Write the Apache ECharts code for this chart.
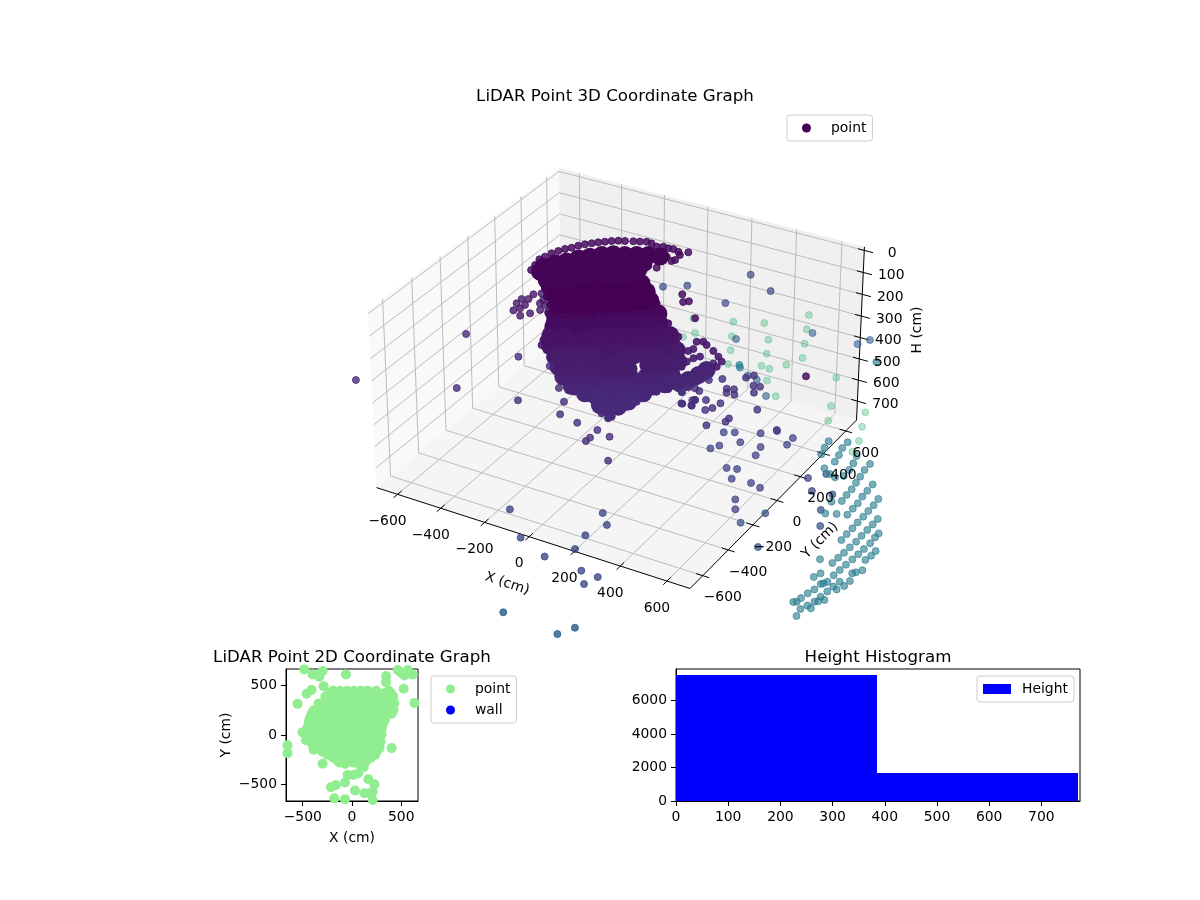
<!DOCTYPE html><html><head><meta charset="utf-8"><style>html,body{margin:0;background:#fff}#c{width:1200px;height:900px}</style><script src="https://cdn.jsdelivr.net/npm/echarts@6/dist/echarts.min.js"></script></head><body><div id="c"></div><script>
// ---------- data (cm); C = colour value on the viridis scale ----------
const xTicks=[-600,-400,-200,0,200,400,600], yTicks=[-600,-400,-200,0,200,400,600], hTicks=[0,100,200,300,400,500,600,700];
const rimX=[-377,-385,-395,-388,-380,-367,-353,-336,-322,-305,-286,-268,-248,-228,-206,-182,-152,-128,-105,-81,-50,-27,-3,17,45,64,68,26,60,37,1];
const rimY=[-47,-4,45,75,112,142,170,192,220,243,264,284,302,320,336,347,361,372,385,382,368,381,378,383,373,352,306,314,292,214,212];
const discX=[-350,-325,-293,-267,-235,-202,-165,-123,-83,-43,3,-340,-299,-267,-242,-209,-177,-137,-98,-65,-26,-282,-243,-211,-186,-153,-107,-68,-36,-16];
const discY=[0,47,82,128,163,198,226,244,267,290,301,-41,-34,1,47,82,116,139,162,197,220,-87,-64,-30,16,51,61,84,119,162];
const neckX=[-338,-298,-265,-233,-193,-160,-114,-81,-40,-278,-239,-200,-167,-134,-95,-56,-16,11,-232,-193,-154,-115,-82,-43,-4,29,56];
const neckY=[28,51,85,120,143,178,189,224,231,-33,-10,13,47,82,105,127,150,182,-84,-61,-39,-16,18,41,64,98,129];
const bodyUX=[-324,-285,-245,-212,-172,-132,-92,-59,-23,15,-288,-249,-169,-130,-97,-57,-18,20,59,-258,-219,-180,-140,-101,-5,34,67,106,141,-209,-62,-33];
const bodyUY=[41,64,87,122,145,168,191,226,256,269,-32,-9,37,60,94,117,140,168,200,-106,-84,-61,-38,-15,40,63,97,134,139,14,7,25];
const bodyUC=[.02,.02,.02,.02,.02,.02,.02,.02,.02,.02,.035,.035,.035,.035,.035,.035,.035,.035,.035,.05,.05,.05,.05,.05,.05,.05,.05,.05,.05,.035,.05,.05];
const bodyMX=[-348,-304,-264,-224,-170,-93,-50,-12,21,65,-285,-246,-206,-166,-120,-73,-67,21,59,95,105,-233,-194,-154,-114,-68,-29,14,66,106,133,155,-148,-101,-33,-20];
const bodyMY=[39,55,78,101,102,192,211,239,274,290,-27,-3,20,43,69,66,161,166,194,224,260,-88,-65,-42,-19,-7,16,34,100,123,154,182,156,141,89,140];
const bodyMC=[.06,.06,.06,.06,.065,.06,.06,.06,.06,.06,.07,.07,.07,.07,.07,.075,.065,.07,.07,.07,.07,.08,.08,.08,.08,.08,.08,.08,.08,.08,.08,.08,.06,.065,.075,.07];
const bodyLX=[-308,-267,-227,-186,-139,-99,-52,-19,21,61,-241,-198,-155,-111,-71,-24,9,43,74,104,-166,-113,-66,-26,7,34,-69,-30,0,15,138,154,163];
const bodyLY=[72,95,118,142,153,177,189,238,261,300,25,43,62,79,102,114,148,183,222,263,2,3,14,37,72,117,-47,-48,-22,32,298,353,405];
const bodyLC=[.09,.09,.09,.09,.09,.09,.09,.09,.09,.09,.1,.1,.1,.1,.1,.1,.1,.1,.1,.1,.11,.11,.11,.11,.11,.11,.12,.12,.12,.12,.1,.1,.1];
const edgeNX=[-347,-306,-260,-224,91,41,-16,-60], edgeNY=[6,-49,-100,-135,119,168,229,267];
const edgeUX=[-361,-321,-290,-267,175,154,89,39], edgeUY=[51,-4,-79,-142,144,147,217,267];
const edgeMX=[-380,-342,-297,-251,-213,188,164,141,158,148,234,273,303,305,210,194,184,186,142];
const edgeMY=[27,3,-33,-83,-121,355,372,358,300,276,326,296,268,223,260,235,199,154,220];
const edgeLX=[-319,-281,-236,-207,-171,-129,-92,-61,-31,9,16,7,29,44,59,74,104,135,158,173,189,138,154,163,161];
const edgeLY=[65,41,-9,-7,-1,-22,-45,-72,-98,-114,-101,-47,-5,48,101,155,196,221,249,303,358,298,353,405,465];
const armX=[-495,-472,-475,-451,-494,-461,-458,-475,-429,-405,-414,-417,-385,-350,-389];
const armY=[68,82,125,148,28,0,33,-27,-51,-15,74,104,28,32,73];
const lightX=[146,195,13,-107,95,-52,243,0,144,291,45,172,258,212,486,339,249,570,713,612,751,-201,-229,-269,789,802];
const lightY=[1360,1243,1202,1146,1082,1030,1128,922,972,1015,815,872,931,866,939,679,774,723,747,613,639,977,921,1086,533,447];
const blueX=[364,114,566,595,435,343,296], blueY=[951,749,961,1017,401,497,509];
const tealSX=[697,227,239], tealSY=[866,566,549];
const indigoFX=[72,209,97,-109,-191], indigoFY=[948,864,681,734,676];
const darkFX=[-336,-177,-124,-142,-32,576], darkFY=[1156,816,777,760,663,468];
const purpleNX=[395,375,299,257,457,456,430,377,398,350,364,265,209,321,284,276,291,255,382,372,355,529,465,465,414,665];
const purpleNY=[370,340,284,250,252,305,299,236,200,226,198,156,115,108,87,79,44,37,114,67,40,143,30,2,-59,45];
const indigoNX=[459,496,586,633,710,549,471,491,633,645,713,592,630,645,722,767,892,946,725,757];
const indigoNY=[0,21,65,112,96,-33,-130,-95,-25,-88,41,-224,-211,-282,-272,-285,-134,-208,-403,-463];
const steelX=[866,817,1081,1034,1023,939,948], steelY=[-432,-534,-407,-309,-191,-74,-646];
const purpleLX=[-447,-301,-526,-270,-181,-110,-74,15,109,174,113,112,256,104,101,251,290,333,323,254,280,-726,-902];
const purpleLY=[-41,-42,-371,-331,-171,-251,-340,-361,-369,-388,-431,-460,-540,-252,-274,40,-35,-30,14,86,92,10,-516];
const slateX=[-49,267,322,88,288,302,231,395,468,448], slateY=[-753,-600,-663,-898,-764,-863,-962,-974,-980,-1044];
const oceanX=[251,524,490], oceanY=[-1283,-1237,-1302];
const tealX=[685,693,704,754,755,767,775,762,800,828,831,844,852,853,903,904,911,916,923,924,927,951,978,980,982,988,988,989,1043,1047,1047,1048,1047,1048,1047,1048,895,912,1103,1103,1102,1101,1101,1098,1095,1091,1088,1150,1150,1152,1149,1146,1142,1137,1133,1129,1128,1081,1070,1193,1192,1186,1207,1192,1183,1198,1194,1167,1161,1156,1150,1145,1099,1109,1113,1120,1092,1089,1079,1122,1134,1153,1156,1172,1180,1130,1037];
const tealY=[471,419,368,502,452,398,345,280,253,241,426,370,318,267,399,348,295,247,195,148,100,7,268,216,168,116,72,23,184,134,87,41,-6,-53,-100,-147,76,-11,54,10,-35,-82,-129,-176,-220,-261,-304,-35,-67,-113,-160,-203,-245,-289,-332,-375,-425,-388,-422,-150,-187,-224,-292,-316,-329,-379,-419,-402,-443,-482,-525,-565,-529,-494,-451,-442,-569,-598,-606,-633,-601,-610,-556,-537,-453,-680,-305];
const planX=[-485,-400,-332,-298,-332,-61,-288,-410,-461,-553,346,346,525,634,261,498,532,617,464,566,403,-654,-654,-390,-298,-502,-468,-214,-163,-71,-44,14,64,119,166,227,210,125,31,-180,-71,210,176,
-190,-120,-50,20,90,160,245,375,-270,-200,-130,-60,10,80,150,220,290,370,420,-340,-270,-200,-130,-60,10,80,150,220,290,360,430,-390,-320,-250,-180,-110,-40,30,100,170,240,310,380,420,
-425,-355,-285,-215,-145,-75,-5,65,135,205,275,340,-440,-370,-300,-230,-160,-90,-20,50,120,190,260,310,-445,-375,-305,-235,-165,-95,-25,45,115,185,255,290,-440,-370,-300,-230,-160,-90,-20,50,120,190,265,-400,-330,-260,-190,-120,-50,20,90,160,230,280,-300,-230,-160,-90,-20,50,120,190,250,-190,-120,-50,20,90,190,-130,-60,10,80,130,
-225,-155,-85,-15,55,125,195,265,330,395,-410,-435,-450,-447,-425,-350,-250,-150,-70,70,150,235,280,290,300,305,330,400];
const planY=[666,615,615,650,592,615,496,456,418,316,598,537,469,326,683,632,605,615,660,660,-133,-105,-184,-150,-292,27,-54,-530,-507,-483,-405,-405,-388,-326,-449,-500,-575,-592,-564,-643,-653,-660,-592,
450,450,450,450,450,450,450,450,390,390,390,390,390,390,390,390,390,390,390,320,320,320,320,320,320,320,320,320,320,320,320,250,250,250,250,250,250,250,250,250,250,250,250,250,
180,180,180,180,180,180,180,180,180,180,180,180,110,110,110,110,110,110,110,110,110,110,110,110,40,40,40,40,40,40,40,40,40,40,40,40,-30,-30,-30,-30,-30,-30,-30,-30,-30,-30,-30,-100,-100,-100,-100,-100,-100,-100,-100,-100,-100,-100,-170,-170,-170,-170,-170,-170,-170,-170,-170,-230,-230,-230,-230,-230,-230,-280,-280,-280,-280,-280,
425,425,425,425,425,425,425,425,425,425,215,145,75,5,-65,-135,-200,-255,-295,-295,-255,-200,-135,-65,5,75,145,215];
const binEdges=[0,385.5,771], binCounts=[7520,1670];
// ---------- 3D view (elevation 30, azimuth -60, distance 10) ----------
const L=698,Hbot=791,Htop=-16,bx=1.1905,bz=.675;
const u=[.8660254,.5,0],w=[.4330127,-.75,.5],v=[-.25,.4330127,.8660254];
const E=[bx/2+10*w[0],bx/2+10*w[1],bz/2+10*w[2]];
function P(X,Y,H){const d=[(X+L)/(2*L)*bx-E[0],(Y+L)/(2*L)*bx-E[1],(Hbot-H)/(Hbot-Htop)*bz-E[2]];
 const dp=(a,b)=>a[0]*b[0]+a[1]*b[1]+a[2]*b[2],depth=-dp(d,w);return [dp(d,u)/depth,dp(d,v)/depth];}
const VIR=['#440154','#482475','#414487','#355f8d','#2a788e','#21918c','#22a884','#44bf70','#7ad151','#bddf26','#fde725'];
function vir(t){const f=t*10,i=Math.min(9,Math.floor(f)),k=f-i,h=s=>[1,3,5].map(j=>parseInt(s.substr(j,2),16)),a=h(VIR[i]),b=h(VIR[i+1]);return 'rgb('+a.map((c,j)=>Math.round(c+(b[j]-c)*k)).join(',')+')';}
// name, X, Y, H, C (one value or a per-point list), size, alpha (back to front)
const S=7,B=18;
const groups=[
['point',lightX,lightY,775,.66,S,.36],['blue',blueX,blueY,600,.3,S,.6],['tealS',tealSX,tealSY,600,.42,S,.65],
['indigoF',indigoFX,indigoFY,400,.22,S,.7],['darkF',darkFX,darkFY,500,.04,S,.85],['arm',armX,armY,250,.07,S,.8],
['edgeL',edgeLX,edgeLY,560,.105,S,.9],['bodyL',bodyLX,bodyLY,560,bodyLC,B,1],['edgeM',edgeMX,edgeMY,410,.075,S,.9],['bodyM',bodyMX,bodyMY,410,bodyMC,B,1],
['edgeU',edgeUX,edgeUY,270,.04,S,.9],['bodyU',bodyUX,bodyUY,270,bodyUC,B,1],['edgeN',edgeNX,edgeNY,130,.01,S,.95],['neck',neckX,neckY,130,.0,B,1],
['rim',rimX,rimY,30,.03,S,.85],['disc',discX,discY,30,.01,B,1],
['purpleN',purpleNX,purpleNY,500,.14,S,.8],['indigoN',indigoNX,indigoNY,550,.2,S,.75],['steel',steelX,steelY,550,.27,S,.75],
['purpleL',purpleLX,purpleLY,450,.13,S,.8],['slate',slateX,slateY,650,.22,S,.8],['ocean',oceanX,oceanY,700,.32,S,.85],['teal',tealX,tealY,775,.42,S,.62]];
const font='DejaVu Sans', fs=13.9, minus=s=>String(s).replace('-','\u2212');
// panes, grid lines, axes
const a=-L,b=L;
const panes=[[[a,a,Hbot],[a,b,Hbot],[a,b,Htop],[a,a,Htop],'#f9f9f9'],[[a,b,Hbot],[b,b,Hbot],[b,b,Htop],[a,b,Htop],'#f0f0f0'],[[a,a,Hbot],[b,a,Hbot],[b,b,Hbot],[a,b,Hbot],'#f5f5f5']];
const segs=[];
xTicks.forEach(t=>{segs.push([t,a,Hbot,t,b,Hbot,0],[t,b,Hbot,t,b,Htop,0],[t,a-28,Hbot,t,a+28,Hbot,1]);});
yTicks.forEach(t=>{segs.push([a,t,Hbot,b,t,Hbot,0],[a,t,Hbot,a,t,Htop,0],[b-28,t,Hbot,b+28,t,Hbot,1]);});
hTicks.forEach(t=>{segs.push([a,a,t,a,b,t,0],[a,b,t,b,b,t,0],[b-28,b,t,b+38,b,t,1]);});
segs.push([a,a,Hbot,b,a,Hbot,1],[b,a,Hbot,b,b,Hbot,1],[b,b,Hbot,b,b,Htop,1]);
const texts=[];
xTicks.forEach(t=>texts.push([t,a,Hbot,-10,27,minus(t),0]));
yTicks.forEach(t=>texts.push([b,t,Hbot,20,22,minus(t),0]));
hTicks.forEach(t=>texts.push([b,b,t,28,3,String(t),0]));
texts.push([0,a,Hbot,-22,47,'X (cm)',-18],[b,0,Hbot,43,40,'Y (cm)',45],[b,b,388,57,-5,'H (cm)',90]);
const X0=320,Y0=115,W=560,HH=520,sc=3000,ox=621,oy=367;
const g3={xAxisIndex:0,yAxisIndex:0};
const series=[
{type:'custom',...g3,silent:true,clip:false,z:1,data:panes.map((_,i)=>[i]),renderItem:(p,api)=>{const q=panes[api.value(0)];
 return {type:'polygon',shape:{points:q.slice(0,4).map(c=>api.coord(P(c[0],c[1],c[2])))},style:{fill:q[4]}};}},
{type:'custom',...g3,silent:true,clip:false,z:2,data:segs,renderItem:(p,api)=>{const s=segs[p.dataIndex],A=api.coord(P(s[0],s[1],s[2])),C=api.coord(P(s[3],s[4],s[5]));
 return {type:'line',shape:{x1:A[0],y1:A[1],x2:C[0],y2:C[1]},style:{stroke:s[6]?'#000':'#bcbcbc',lineWidth:1}};}},
...groups.map(g=>{const perPoint=Array.isArray(g[4]),base=vir(perPoint?g[4][0]:g[4]);
 return {name:g[0],type:'scatter',...g3,clip:true,silent:true,z:3,symbolSize:g[5],itemStyle:{color:base,opacity:g[6],borderColor:base,borderWidth:g[5]===S?1:0},
 data:g[1].map((x,k)=>{const value=P(x,g[2][k],g[3]);return perPoint?{value,itemStyle:{color:vir(g[4][k])}}:value;})};}),
{type:'custom',...g3,silent:true,clip:false,z:6,data:texts,renderItem:(p,api)=>{const t=texts[p.dataIndex],A=api.coord(P(t[0],t[1],t[2]));
 return {type:'text',x:A[0]+t[3],y:A[1]+t[4],rotation:t[6]*Math.PI/180,style:{text:t[5],font:fs+'px "'+font+'"',fill:'#000',align:'center',verticalAlign:'middle'}};}},
{name:'point',type:'scatter',xAxisIndex:1,yAxisIndex:1,clip:true,silent:true,symbolSize:10,itemStyle:{color:'#90ee90',opacity:1},data:planX.map((x,i)=>[x,planY[i]])},
{name:'wall',type:'scatter',xAxisIndex:1,yAxisIndex:1,silent:true,symbolSize:10,itemStyle:{color:'#0000ff',opacity:1},data:[]},
{name:'Height',type:'custom',xAxisIndex:2,yAxisIndex:2,silent:true,itemStyle:{color:'#0000ff'},data:binCounts.map((c,i)=>[binEdges[i],binEdges[i+1],c]),
 renderItem:(p,api)=>{const A=api.coord([api.value(0),api.value(2)]),C=api.coord([api.value(1),0]),x0=Math.round(A[0]),x1=Math.round(C[0]);return {type:'rect',shape:{x:x0,y:A[1],width:x1-x0,height:C[1]-A[1]},style:{fill:'#0000ff'}};}}
];
const hiddenX={type:'value',gridIndex:0,show:false,min:(X0-ox)/sc,max:(X0+W-ox)/sc,scale:true};
const hiddenY={type:'value',gridIndex:0,show:false,min:(oy-Y0-HH)/sc,max:(oy-Y0)/sc,scale:true};
function axis(grid,min,max,ticks,extra){return Object.assign({type:'value',gridIndex:grid,min,max,splitLine:{show:false},
 axisLine:{show:true,onZero:false,lineStyle:{color:'#000',width:1}},axisTick:{show:true,length:5,customValues:ticks,lineStyle:{color:'#000',width:1}},
 axisLabel:{color:'#000',fontFamily:font,fontSize:fs,margin:9,customValues:ticks,formatter:v=>minus(v)}},extra||{});}
const nameX={name:'X (cm)',nameLocation:'middle',nameGap:30,nameTextStyle:{color:'#000',fontFamily:font,fontSize:fs}};
const nameY={name:'Y (cm)',nameLocation:'middle',nameGap:53,nameRotate:90,nameTextStyle:{color:'#000',fontFamily:font,fontSize:fs}};
const title=(text,left,top)=>({text,left,top,textAlign:'center',textStyle:{color:'#000',fontFamily:font,fontSize:16.67,fontWeight:'normal'}});
const lg=(data,left,top,extra)=>Object.assign({data,left,top,orient:'vertical',selectedMode:false,backgroundColor:'#fff',borderColor:'#ccc',borderWidth:1,borderRadius:3,itemWidth:17,itemHeight:9,itemGap:7,padding:[6,6,6,15],
 textStyle:{color:'#000',fontFamily:font,fontSize:fs,padding:[0,0,0,11]}},extra||{});
const chart=echarts.init(document.getElementById('c'),null,{renderer:'canvas'});
chart.setOption({animation:false,backgroundColor:'#fff',
 title:[title('LiDAR Point 3D Coordinate Graph',610,83),title('LiDAR Point 2D Coordinate Graph',347,644),title('Height Histogram',873,644)],
 legend:[lg([{name:'point',icon:'circle',itemStyle:{color:'#440154',opacity:1,borderWidth:0}}],787,115),
  lg([{name:'point',icon:'circle',itemStyle:{color:'#90ee90',opacity:1,borderWidth:0}},{name:'wall',icon:'circle',itemStyle:{color:'#0000ff',opacity:1,borderWidth:0}}],431,676),
  lg([{name:'Height',icon:'rect',itemStyle:{color:'#0000ff'}}],977,676,{itemWidth:28,itemHeight:10,padding:[6,6,6,6],textStyle:{color:'#000',fontFamily:font,fontSize:fs,padding:[0,0,0,6]}})],
 grid:[{left:X0,top:Y0,width:W,height:HH,show:false},
  {left:286,top:669,width:132,height:132,show:true,borderColor:'#000',borderWidth:1,backgroundColor:'#fff'},
  {left:676,top:669,width:404,height:132,show:true,borderColor:'#000',borderWidth:1,backgroundColor:'#fff'}],
 xAxis:[hiddenX,axis(1,-670,670,[-500,0,500],nameX),axis(2,0,774,[0,100,200,300,400,500,600,700])],
 yAxis:[hiddenY,axis(1,-670,670,[-500,0,500],nameY),axis(2,0,7880,[0,2000,4000,6000])],
 series});
</script></body></html>
